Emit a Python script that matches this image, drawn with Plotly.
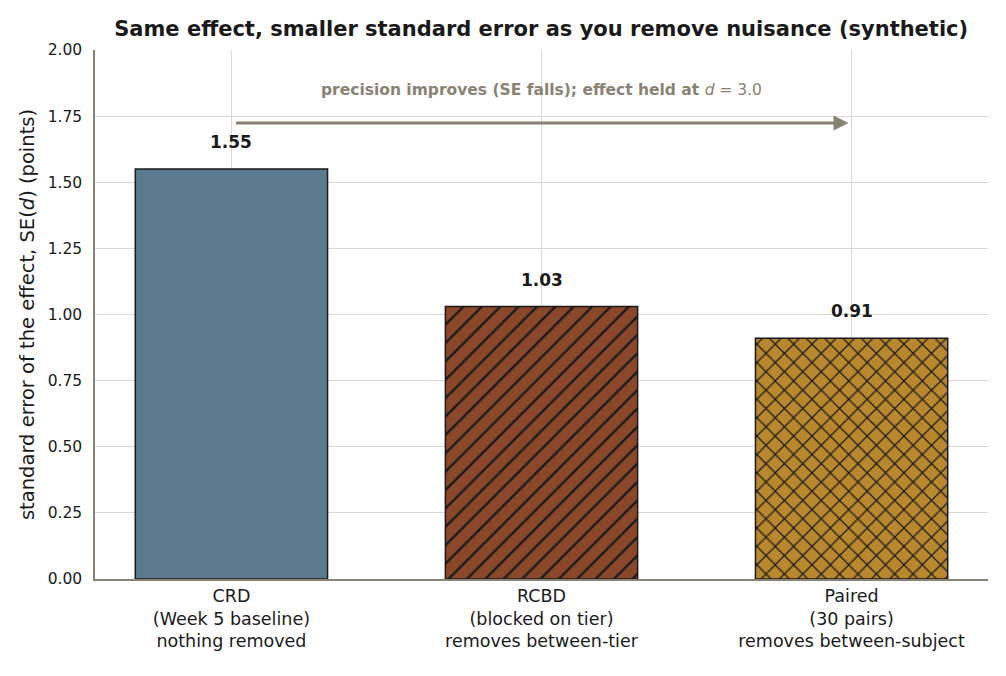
import plotly.graph_objects as go

designs = ["CRD<br>(Week 5 baseline)<br>nothing removed",
           "RCBD<br>(blocked on tier)<br>removes between-tier",
           "Paired<br>(30 pairs)<br>removes between-subject"]
se_values = [1.55, 1.03, 0.91]
bar_colors = ["#5b7a8d", "#8a472a", "#b8872e"]
hatches = ["", "/", "x"]
xpos = [0, 1, 2]

font = "DejaVu Sans, sans-serif"
ink = "#1a1a1a"
taupe = "#8a8272"

fig = go.Figure()
# one trace per bar so each hatch gets its own dark foreground colour
for x, v, c, h in zip(xpos, se_values, bar_colors, hatches):
    fig.add_trace(go.Bar(
        x=[x], y=[v], width=0.62,
        marker=dict(color=c, line=dict(color=ink, width=1.5),
                    pattern=dict(shape=h, fgcolor=ink, bgcolor=c, fgopacity=1,
                                 fillmode="replace", size=13, solidity=0.18)),
        hoverinfo="skip", showlegend=False,
    ))
    fig.add_annotation(x=x, y=v, text="<b>%.2f</b>" % v, showarrow=False,
                       yshift=27, font=dict(size=17, color=ink, family=font))

# arrow: precision improves left to right
fig.add_annotation(x=1.99, y=1.724, ax=0.01, ay=1.724, xref="x", yref="y",
                   axref="x", ayref="y", showarrow=True, arrowhead=2,
                   arrowsize=1, arrowwidth=3, arrowcolor=taupe, text="")
fig.add_annotation(x=1.0, y=1.85,
                   text="<b>precision improves (SE falls); effect held at </b><i>d</i> = 3.0",
                   showarrow=False, font=dict(size=15.5, color=taupe, family=font))

fig.update_layout(
    width=1006, height=676,
    margin=dict(l=87, r=26, t=42, b=105),
    paper_bgcolor="white", plot_bgcolor="white",
    barmode="overlay",
    title=dict(text="<b>Same effect, smaller standard error as you remove nuisance (synthetic)</b>",
               x=0.53, xanchor="center", y=0.969, yanchor="middle",
               font=dict(size=21, color=ink, family=font)),
    font=dict(family=font, color=ink),
)
fig.update_xaxes(range=[-0.44, 2.44], tickvals=xpos, ticktext=designs,
                 showgrid=True, gridcolor="#dcd7d0", gridwidth=1,
                 showline=True, linecolor=taupe, linewidth=1.5,
                 ticks="", tickfont=dict(size=17.5, family=font), zeroline=False)
fig.update_yaxes(range=[0, 2.0], dtick=0.25, tickformat=".2f",
                 showgrid=True, gridcolor="#dcd7d0", gridwidth=1,
                 showline=True, linecolor=taupe, linewidth=1.5,
                 ticks="outside", ticklen=8, tickcolor="rgba(0,0,0,0)",
                 tickfont=dict(size=15.5, family=font), zeroline=False,
                 automargin=False,
                 title=dict(text="standard error of the effect, SE(<i>d</i>) (points)",
                            font=dict(size=19.5, family=font), standoff=8))

fig.write_html("out.html")
